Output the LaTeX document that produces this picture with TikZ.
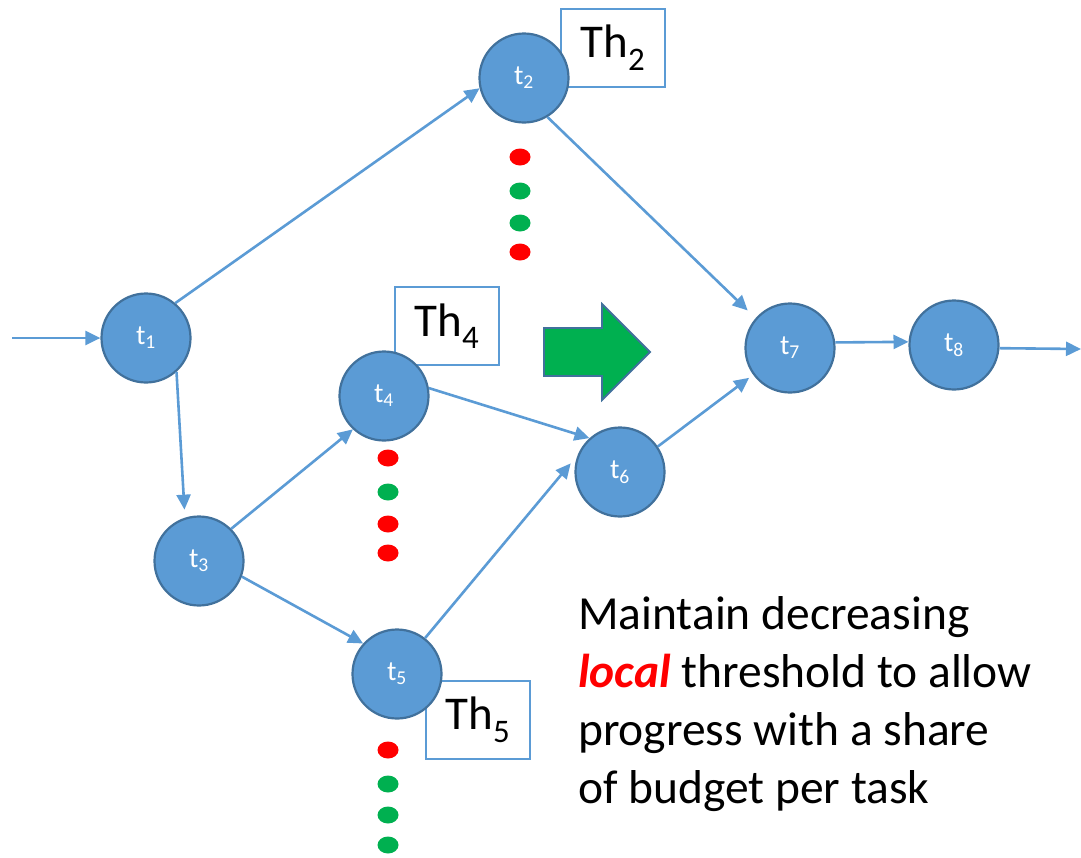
\documentclass[tikz,border=0pt]{standalone}
\usepackage{fontspec}
\setmainfont{Carlito}
\usetikzlibrary{arrows.meta}
\definecolor{nodefill}{HTML}{5B9BD5}
\definecolor{nodeline}{HTML}{41719C}
\definecolor{dotred}{HTML}{FF0000}
\definecolor{dotgreen}{HTML}{00B050}
\tikzset{
  task/.style={circle, fill=nodefill, draw=nodeline, line width=2.2pt,
    minimum size=89pt, inner sep=0pt, text=white,
    font=\fontsize{28}{32}\selectfont},
  thbox/.style={draw=nodefill, line width=1.6pt, minimum width=104pt,
    minimum height=78pt, inner sep=0pt, font=\fontsize{47}{50}\selectfont},
  flow/.style={draw=nodefill, line width=2.6pt,
    -{Triangle[length=15pt,width=14pt]}},
  reddot/.style={fill=dotred},
  greendot/.style={fill=dotgreen},
}
\newcommand{\tokendot}[3]{\fill[#1] (#2,#3) ellipse [x radius=10.5pt, y radius=8.5pt];}
\begin{document}
\begin{tikzpicture}[x=1pt,y=-1pt]
\useasboundingbox (0,0) rectangle (1081,857);

% threshold boxes (behind the task circles)
\node[thbox] (th2) at (613,48) {Th\textsubscript{2}};
\node[thbox] (th4) at (447,326) {Th\textsubscript{4}};
\node[thbox] (th5) at (478,720) {Th\textsubscript{5}};

% tasks
\node[task] (t1) at (146,338) {t\textsubscript{1}};
\node[task] (t2) at (524,78)  {t\textsubscript{2}};
\node[task] (t3) at (199,561) {t\textsubscript{3}};
\node[task] (t4) at (384,396) {t\textsubscript{4}};
\node[task] (t5) at (397,674) {t\textsubscript{5}};
\node[task] (t6) at (620,472) {t\textsubscript{6}};
\node[task] (t7) at (790,348) {t\textsubscript{7}};
\node[task] (t8) at (954,345) {t\textsubscript{8}};

\coordinate (in)  at (12,338);
\coordinate (out) at (1081,349);

% dependencies
\draw[flow] (in) -- (t1);
\draw[flow] (t1.50) -- (t2.193);
\draw[flow, shorten >=8pt] (t1.-48) -- (t3.108);
\draw[flow] (t3.45) -- (t4.227);
\draw[flow] (t3.-20) -- (t5.138);
\draw[flow] (t4.10) -- (t6.132);
\draw[flow, shorten >=11pt] (t5.52) -- (t6.158);
\draw[flow, shorten >=11pt] (t2.-59) -- (t7.139);
\draw[flow, shorten >=5pt] (t6.34) -- (t7.216);
\draw[flow] (t7.7) -- (t8.176);
\draw[flow] (t8.-4) -- (out);

% token sequences below tasks
\tokendot{reddot}{520}{157}
\tokendot{greendot}{520}{191}
\tokendot{greendot}{520}{223}
\tokendot{reddot}{520}{252}

\tokendot{reddot}{388}{458}
\tokendot{greendot}{388}{492}
\tokendot{reddot}{388}{524}
\tokendot{reddot}{388}{553}

\tokendot{reddot}{388}{750}
\tokendot{greendot}{388}{784}
\tokendot{greendot}{388}{815}
\tokendot{greendot}{388}{845}

% big green arrow
\draw[fill=dotgreen, draw=nodeline, line width=1.8pt, line join=miter]
  (544,328) -- (602,328) -- (602,304) -- (650,352) -- (602,400)
  -- (602,376) -- (544,376) -- cycle;

% explanation (anchored at the baseline of its last line)
\node[anchor=base west, align=left, inner sep=0pt,
      font=\fontsize{47.5}{58}\selectfont] (note) at (578,803)
  {Maintain decreasing\\
   {\color{dotred}\bfseries\itshape local} threshold to allow\\
   progress with a share\\
   of budget per task};
\end{tikzpicture}
\end{document}
